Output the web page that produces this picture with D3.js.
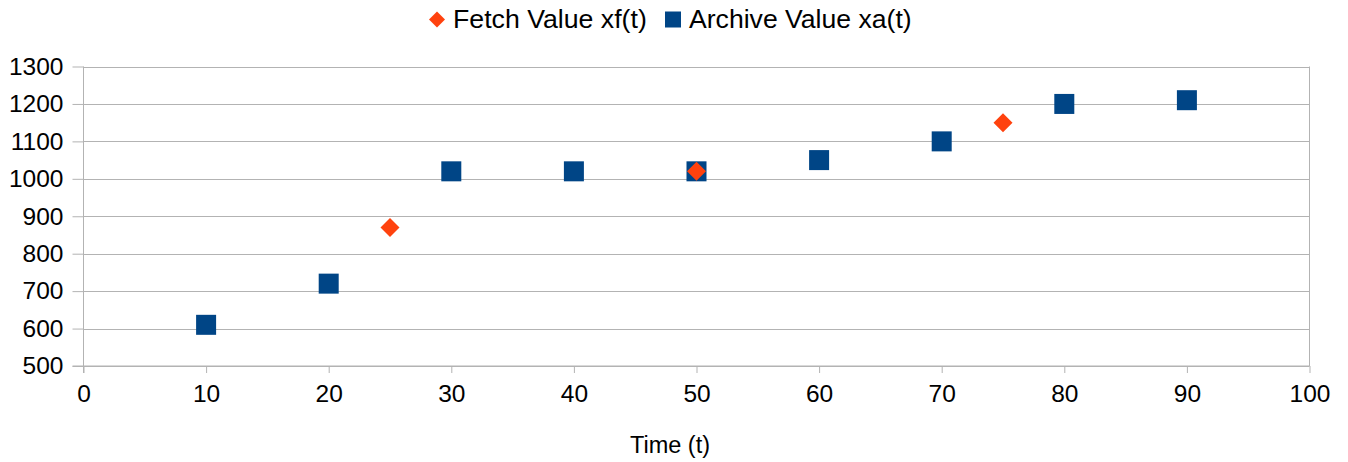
<!DOCTYPE html>
<html>
<head>
<meta charset="utf-8">
<script src="https://cdn.jsdelivr.net/npm/d3@7"></script>
<style>
  html, body { margin: 0; padding: 0; background: #fff; }
  svg { display: block; font-family: "Liberation Sans", Arial, sans-serif; }
</style>
</head>
<body>
<svg id="chart" width="1348" height="462"></svg>
<script>
const archiveTimes = [10, 20, 30, 40, 50, 60, 70, 80, 90];
const archiveValues = [610, 720, 1020, 1020, 1020, 1050, 1100, 1200, 1210];
const fetchTimes = [25, 50, 75];
const fetchValues = [870, 1020, 1150];
const xTicks = [0, 10, 20, 30, 40, 50, 60, 70, 80, 90, 100];
const yTicks = [500, 600, 700, 800, 900, 1000, 1100, 1200, 1300];
const seriesNames = ["Fetch Value xf(t)", "Archive Value xa(t)"];
const xTitle = "Time (t)";

(function () {
const orange = "#ff420e", blue = "#004586", grid = "#b3b3b3";
const svg = d3.select("#chart");
const pl = 83.5, pr = 1309.5, pt = 66.5, pb = 366;

const x = d3.scaleLinear().domain([0, 100]).range([pl, pr]);
const y = d3.scaleLinear().domain([500, 1300]).range([pb, pt]);

// gridlines
svg.append("g").selectAll("line").data(yTicks).join("line")
  .attr("x1", pl).attr("x2", pr)
  .attr("y1", d => Math.round(y(d)) + 0.5).attr("y2", d => Math.round(y(d)) + 0.5)
  .attr("stroke", grid).attr("stroke-width", 1);
svg.append("line").attr("x1", pr).attr("x2", pr).attr("y1", pt).attr("y2", pb)
  .attr("stroke", grid);

// y axis
const yAxis = svg.append("g").attr("transform", `translate(${pl},0)`)
  .call(d3.axisLeft(y).tickValues(yTicks).tickSize(11).tickPadding(9).tickFormat(d3.format("d")));
yAxis.select(".domain").attr("stroke", grid).attr("d", `M0,${pt}V${pb + 7}`);
yAxis.selectAll(".tick line").attr("stroke", grid);
yAxis.selectAll("text").attr("font-size", 24.5).attr("fill", "#000")
  .attr("font-family", "Liberation Sans, Arial, sans-serif");

// x axis
const xAxis = svg.append("g").attr("transform", `translate(0,${pb})`)
  .call(d3.axisBottom(x).tickValues(xTicks).tickSize(7).tickPadding(12));
xAxis.select(".domain").attr("stroke", grid).attr("d", `M${pl - 11},0H${pr}`);
xAxis.selectAll(".tick line").attr("stroke", grid);
xAxis.selectAll("text").attr("font-size", 24.5).attr("fill", "#000")
  .attr("font-family", "Liberation Sans, Arial, sans-serif");

// axis title
svg.append("text").attr("x", 670).attr("y", 453)
  .attr("text-anchor", "middle").attr("font-size", 23.5).attr("fill", "#000").text(xTitle);

// archive squares
const sq = 20;
svg.append("g").selectAll("rect").data(archiveTimes.map((t, i) => [t, archiveValues[i]])).join("rect")
  .attr("x", d => x(d[0]) - sq / 2).attr("y", d => y(d[1]) - sq / 2)
  .attr("width", sq).attr("height", sq).attr("fill", blue);

// fetch diamonds
const dm = 9.5;
svg.append("g").selectAll("path").data(fetchTimes.map((t, i) => [t, fetchValues[i]])).join("path")
  .attr("d", d => `M${x(d[0])},${y(d[1]) - dm}L${x(d[0]) + dm},${y(d[1])}L${x(d[0])},${y(d[1]) + dm}L${x(d[0]) - dm},${y(d[1])}Z`)
  .attr("fill", orange);

// legend
const lg = svg.append("g");
lg.append("path").attr("d", "M437,11.5L445,19.5L437,27.5L429,19.5Z").attr("fill", orange);
lg.append("text").attr("x", 453).attr("y", 28).attr("font-size", 26.7).attr("fill", "#000").text(seriesNames[0]);
lg.append("rect").attr("x", 665).attr("y", 11.5).attr("width", 16).attr("height", 16).attr("fill", blue);
lg.append("text").attr("x", 689).attr("y", 28).attr("font-size", 26.6).attr("fill", "#000").text(seriesNames[1]);
})();
</script>
</body>
</html>
